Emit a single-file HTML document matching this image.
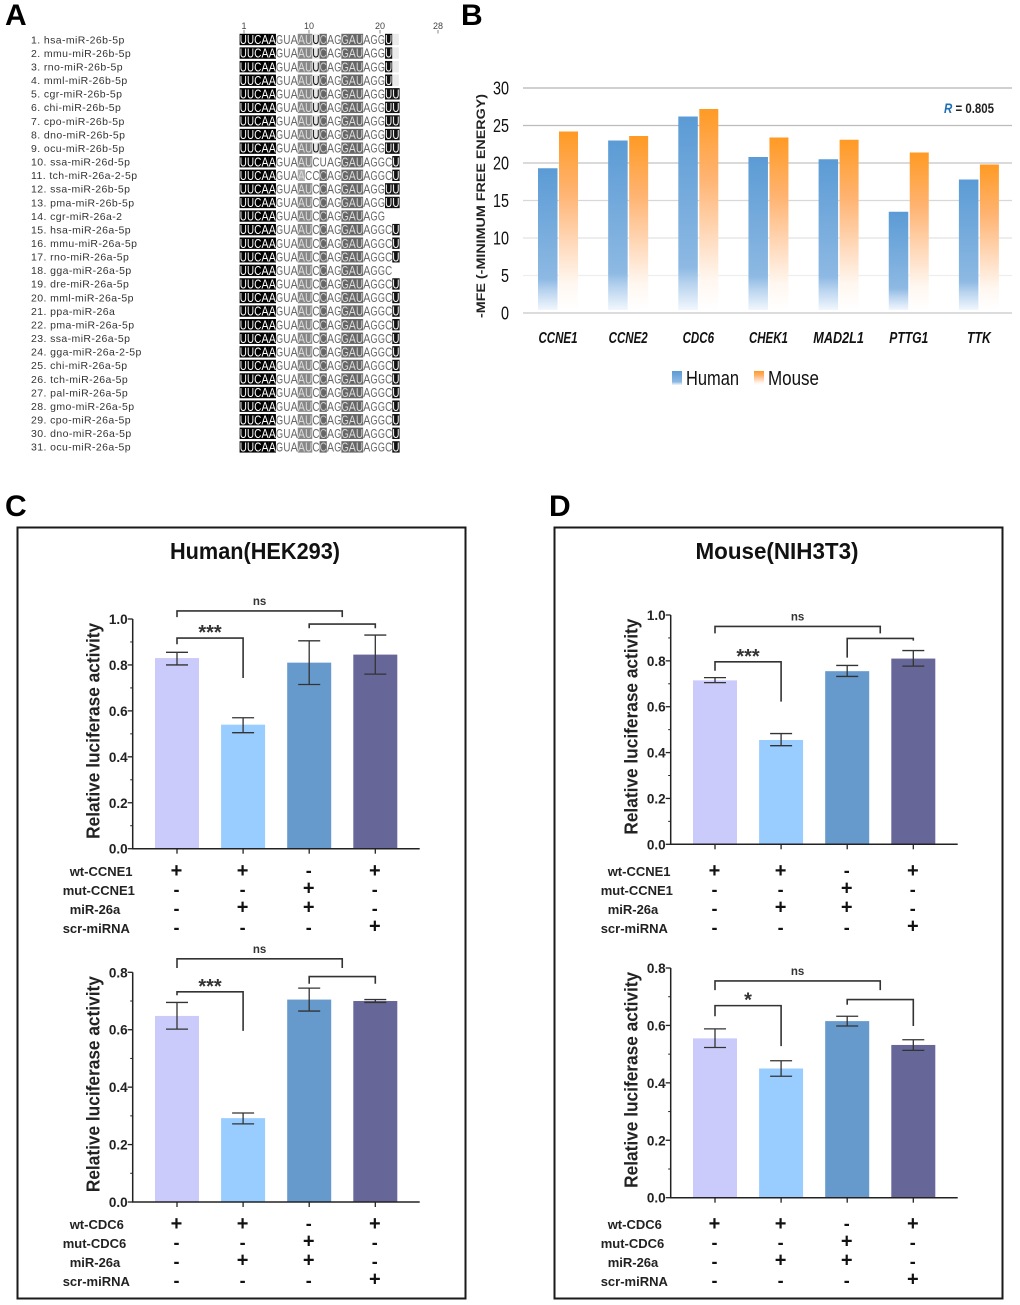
<!DOCTYPE html>
<html lang="en">
<head>
<meta charset="utf-8">
<title>miR-26 conservation and luciferase reporter figure</title>
<style>
html,body{margin:0;padding:0;background:#fff;}
#figure{display:block;width:1020px;height:1305px;font-family:"Liberation Sans",sans-serif;}
</style>
</head>
<body>
<svg id="figure" xmlns="http://www.w3.org/2000/svg" width="1020" height="1305" viewBox="0 0 1020 1305">
  <defs>
    <linearGradient id="human-grad" x1="0" y1="0" x2="0" y2="1">
      <stop offset="0" stop-color="#5b9bd5"/>
      <stop offset="0.78" stop-color="#8db9e3"/>
      <stop offset="0.86" stop-color="#b6d2ee"/>
      <stop offset="1" stop-color="#f1f7fd"/>
    </linearGradient>
    <linearGradient id="mouse-grad" x1="0" y1="0" x2="0" y2="1">
      <stop offset="0" stop-color="#ff9a24"/>
      <stop offset="0.35" stop-color="#ffb473"/>
      <stop offset="0.65" stop-color="#ffdcc0"/>
      <stop offset="0.85" stop-color="#fff7f0"/>
      <stop offset="1" stop-color="#ffffff"/>
    </linearGradient>
  </defs>
  <text x="5" y="25" font-size="30" font-weight="bold" fill="#000">A</text>
  <text x="461" y="25" font-size="30" font-weight="bold" fill="#000">B</text>
  <text x="5" y="516" font-size="30" font-weight="bold" fill="#000">C</text>
  <text x="549" y="516" font-size="30" font-weight="bold" fill="#000">D</text>
  <g id="panel-a"></g>
  <g id="panel-b"></g>
  <rect x="17.5" y="527.5" width="448" height="771" fill="none" stroke="#1a1a1a" stroke-width="2"/>
  <rect x="554.5" y="527.5" width="448" height="771" fill="none" stroke="#1a1a1a" stroke-width="2"/>
  <text x="255" y="559" text-anchor="middle" font-size="23" font-weight="bold" fill="#111" textLength="170" lengthAdjust="spacingAndGlyphs">Human(HEK293)</text>
  <text x="777" y="559" text-anchor="middle" font-size="23" font-weight="bold" fill="#111" textLength="163" lengthAdjust="spacingAndGlyphs">Mouse(NIH3T3)</text>
  <g id="panel-c-top"></g>
  <g id="panel-c-bottom"></g>
  <g id="panel-d-top"></g>
  <g id="panel-d-bottom"></g>
</svg>
<script>
/* ---------- Panel A data ---------- */
const miRnaNames = ["hsa-miR-26b-5p","mmu-miR-26b-5p","rno-miR-26b-5p","mml-miR-26b-5p","cgr-miR-26b-5p","chi-miR-26b-5p","cpo-miR-26b-5p","dno-miR-26b-5p","ocu-miR-26b-5p","ssa-miR-26d-5p","tch-miR-26a-2-5p","ssa-miR-26b-5p","pma-miR-26b-5p","cgr-miR-26a-2","hsa-miR-26a-5p","mmu-miR-26a-5p","rno-miR-26a-5p","gga-miR-26a-5p","dre-miR-26a-5p","mml-miR-26a-5p","ppa-miR-26a","pma-miR-26a-5p","ssa-miR-26a-5p","gga-miR-26a-2-5p","chi-miR-26a-5p","tch-miR-26a-5p","pal-miR-26a-5p","gmo-miR-26a-5p","cpo-miR-26a-5p","dno-miR-26a-5p","ocu-miR-26a-5p"];
const seq26b21 = "UUCAAGUAAUUCAGGAUAGGU";
const seq26b22 = "UUCAAGUAAUUCAGGAUAGGUU";
const seq26a22 = "UUCAAGUAAUCCAGGAUAGGCU";
const miRnaSequences = [seq26b21,seq26b21,seq26b21,seq26b21,seq26b22,seq26b22,seq26b22,seq26b22,seq26b22,"UUCAAGUAAUCUAGGAUAGGCU","UUCAAGUAACCCAGGAUAGGCU","UUCAAGUAAUCCAGGAUAGGUU","UUCAAGUAAUCCAGGAUAGGUU","UUCAAGUAAUCCAGGAUAGG",seq26a22,seq26a22,seq26a22,"UUCAAGUAAUCCAGGAUAGGC",seq26a22,seq26a22,seq26a22,seq26a22,seq26a22,seq26a22,seq26a22,seq26a22,seq26a22,seq26a22,seq26a22,seq26a22,seq26a22];
const rulerLabels = [1,10,20,28];

/* ---------- Panel B data ---------- */
const mfeGenes = ["CCNE1","CCNE2","CDC6","CHEK1","MAD2L1","PTTG1","TTK"];
const mfeHuman = [19.3,23.0,26.2,20.8,20.5,13.5,17.8];
const mfeMouse = [24.2,23.6,27.2,23.4,23.1,21.4,19.8];
const mfeTicks = [0,5,10,15,20,25,30];

/* ---------- Panels C / D data ---------- */
const groupColors = ["#cbcbfb","#99ccff","#6699cc","#666699"];

const cTopValues = [0.83,0.54,0.81,0.845];
const cTopErrHigh = [0.855,0.57,0.905,0.93];
const cTopErrLow = [0.80,0.505,0.715,0.76];
const cTopTicks = [0,0.2,0.4,0.6,0.8,1.0];

const cBottomValues = [0.648,0.292,0.705,0.70];
const cBottomErrHigh = [0.695,0.31,0.745,0.705];
const cBottomErrLow = [0.602,0.272,0.665,0.695];
const cBottomTicks = [0,0.2,0.4,0.6,0.8];

const dTopValues = [0.715,0.455,0.755,0.81];
const dTopErrHigh = [0.727,0.483,0.78,0.845];
const dTopErrLow = [0.705,0.43,0.732,0.777];
const dTopTicks = [0,0.2,0.4,0.6,0.8,1.0];

const dBottomValues = [0.555,0.45,0.615,0.532];
const dBottomErrHigh = [0.588,0.477,0.632,0.55];
const dBottomErrLow = [0.523,0.423,0.598,0.513];
const dBottomTicks = [0,0.2,0.4,0.6,0.8];

/* Brackets are read in data units: group indexes and activity levels */
const cTopBrackets = [
  {from:0,to:2.5,level:1.035,left:1.008,right:1.008,label:"ns"},
  {from:2,to:3,level:0.978,left:0.96,right:0.96,label:""},
  {from:0,to:1,level:0.917,left:0.89,right:0.743,label:"***"}
];
const cBottomBrackets = [
  {from:0,to:2.5,level:0.847,left:0.815,right:0.815,label:"ns"},
  {from:2,to:3,level:0.785,left:0.76,right:0.76,label:""},
  {from:0,to:1,level:0.732,left:0.72,right:0.596,label:"***"}
];
const dTopBrackets = [
  {from:0,to:2.5,level:0.95,left:0.92,right:0.92,label:"ns"},
  {from:2,to:3,level:0.898,left:0.814,right:0.888,label:""},
  {from:0,to:1,level:0.796,left:0.757,right:0.622,label:"***"}
];
const dBottomBrackets = [
  {from:0,to:2.5,level:0.755,left:0.723,right:0.723,label:"ns"},
  {from:2,to:3,level:0.69,left:0.672,right:0.598,label:""},
  {from:0,to:1,level:0.669,left:0.632,right:0.528,label:"*"}
];

const ccne1RowLabels = ["wt-CCNE1","mut-CCNE1","miR-26a","scr-miRNA"];
const cdc6RowLabels = ["wt-CDC6","mut-CDC6","miR-26a","scr-miRNA"];
const conditionSigns = [["+","+","-","+"],["-","-","+","-"],["-","+","+","-"],["-","-","-","+"]];

/* ---------- helpers ---------- */
const NS = "http://www.w3.org/2000/svg";
function mk(parent, tag, attrs, txt){
  const el = document.createElementNS(NS, tag);
  for (const k in attrs) el.setAttribute(k, attrs[k]);
  if (txt !== undefined) el.textContent = txt;
  parent.appendChild(el);
  return el;
}
function slug(s){ return String(s).toLowerCase().replace(/[^a-z0-9]+/g,"-").replace(/^-|-$/g,""); }

/* ---------- Panel A ---------- */
(function(){
  const g = document.getElementById("panel-a");
  const x0 = 239.6, cw = 7.27, y0 = 39.5, dy = 13.58, ch = 11.4;
  rulerLabels.forEach(function(n){
    const cx = n === 28 ? 438 : n === 20 ? 380 : n === 10 ? 309 : 244;
    const t = mk(g,"text",{x:cx,y:29,"text-anchor":"middle","font-size":9,fill:"#444"},n);
    
    
    const tk = mk(g,"line",{x1:cx,x2:cx,y1:30,y2:33.5,stroke:"#555","stroke-width":0.7});
    
    
  });
  miRnaNames.forEach(function(name,i){
    const y = y0 + dy*i;
    const lab = mk(g,"text",{x:31,y:y+3.8,"font-size":10.5,fill:"#333",style:"letter-spacing:.4px"},(i+1)+". "+name);
    
    
    const seq = miRnaSequences[i];
    const is26b = i < 9;
    for (let p=0;p<seq.length;p++){
      const pos = p+1, c = seq[p];
      let fill = "#fff", col = "#666";
      if (pos<=5){ fill="#000"; col="#fff"; }
      else if (pos===9 || pos===10){
        fill = (i===10 && pos===10) ? "#fff" : "#888"; col = (i===10 && pos===10) ? "#666" : "#ddd";
        if (i===10 && pos===9){ fill="#aaa"; }
      }
      else if (pos===11){ if(is26b){ fill="#e8e8e8"; col="#000"; } }
      else if (pos===12){ if(i!==9){ fill="#666"; col="#ccc"; } }
      else if (pos>=15 && pos<=17){ fill="#666"; col="#ddd"; }
      else if (pos===21 && c==="U"){ fill="#111"; col="#fff"; }
      else if (pos===22){ fill="#111"; col="#fff"; }
      const cell = mk(g,"rect",{x:x0+cw*p,y:y-ch/2,width:cw+0.1,height:ch,fill:fill});
      
      
      const tx = mk(g,"text",{x:x0+cw*(p+0.5),y:y+4.6,"text-anchor":"middle","font-size":13,fill:col,textLength:cw-0.2,lengthAdjust:"spacingAndGlyphs"},c);
      
      
    }
    if (i<4){
      const end = mk(g,"rect",{x:x0+cw*21,y:y-ch/2,width:cw*0.9,height:ch,fill:"#ebebeb"});
      
      
    }
  });
})();

/* ---------- Panel B ---------- */
(function(){
  const g = document.getElementById("panel-b");
  const y = function(v){ return 313 - v*7.5; };
  const xC = function(i){ return 558 + 70.15*i; };
  const gridCols = ["#c8c8c8","#eeeeee","#e2e2e2","#d8d8d8","#c4c4c4","#bcbcbc","#b4b4b4"];
  mfeTicks.forEach(function(t,i){
    const ln = mk(g,"line",{x1:523,x2:1012,y1:y(t),y2:y(t),stroke:gridCols[i],"stroke-width":1.2});
    
    
    const lb = mk(g,"text",{x:509,y:y(t)+6.5,"text-anchor":"end","font-size":18,fill:"#111",textLength:String(t).length*8,lengthAdjust:"spacingAndGlyphs"},t);
    
    
  });
  mfeGenes.forEach(function(gene,i){
    const hb = mk(g,"rect",{x:xC(i)-20,y:y(mfeHuman[i]),width:19.5,height:y(0.4)-y(mfeHuman[i]),fill:"url(#human-grad)"});
    
    
    const mb = mk(g,"rect",{x:xC(i)+1,y:y(mfeMouse[i]),width:19,height:y(0.4)-y(mfeMouse[i]),fill:"url(#mouse-grad)"});
    
    
    const widthFor = gene.length*7.6 + 1 + (gene[0]==="M"?4:0);
    const lb = mk(g,"text",{x:xC(i),y:343,"text-anchor":"middle","font-size":16,"font-weight":"bold","font-style":"italic",fill:"#111",textLength:widthFor,lengthAdjust:"spacingAndGlyphs"},gene);
    
    
  });
  const title = mk(g,"text",{transform:"translate(485,206) rotate(-90)","text-anchor":"middle","font-size":11.5,"font-weight":"bold",fill:"#222",textLength:224,lengthAdjust:"spacingAndGlyphs"},"-MFE (-MINIMUM FREE ENERGY)");
  
  
  const r = mk(g,"text",{x:944,y:113,"font-size":14,"font-weight":"bold",fill:"#222",textLength:50,lengthAdjust:"spacingAndGlyphs"});
  
  
  const rr = mk(r,"tspan",{fill:"#1f6fb5","font-style":"italic"},"R");
  
  
  const rv = mk(r,"tspan",{},"\u00a0= 0.805");
  
  
  const hs = mk(g,"rect",{x:672,y:371,width:10,height:14,fill:"url(#human-grad)"});
  
  
  const ht = mk(g,"text",{x:686,y:385,"font-size":20,fill:"#111",textLength:53,lengthAdjust:"spacingAndGlyphs"},"Human");
  
  
  const ms = mk(g,"rect",{x:754,y:371,width:10,height:14,fill:"url(#mouse-grad)"});
  
  
  const mt = mk(g,"text",{x:768,y:385,"font-size":20,fill:"#111",textLength:51,lengthAdjust:"spacingAndGlyphs"},"Mouse");
  
  
})();

/* ---------- Panels C / D ---------- */
function drawBars(opts){
  const g = document.getElementById(opts.id);
  const maxV = opts.ticks[opts.ticks.length-1];
  const y = function(v){ return opts.y0 - (v/maxV)*opts.h; };
  const xC = function(i){ return opts.axisX + 44.3 + 66.1*i; };
  const ink = "#222";

  opts.values.forEach(function(v,i){
    const b = mk(g,"rect",{x:xC(i)-22,y:y(v),width:44,height:opts.y0-y(v),fill:groupColors[i]});
    
    
    const d = "M"+(xC(i)-11)+" "+y(opts.hi[i])+"H"+(xC(i)+11)+"M"+xC(i)+" "+y(opts.hi[i])+"V"+y(opts.lo[i])+"M"+(xC(i)-11)+" "+y(opts.lo[i])+"H"+(xC(i)+11);
    const e = mk(g,"path",{d:d,fill:"none",stroke:"#333","stroke-width":1.3});
    
    
  });

  const ax = mk(g,"path",{d:"M"+opts.axisX+" "+y(maxV)+"V"+opts.y0+"H"+(opts.axisX+287),fill:"none",stroke:ink,"stroke-width":1.5});
  
  
  opts.ticks.forEach(function(t,k){
    const tk = mk(g,"line",{x1:opts.axisX-5,x2:opts.axisX,y1:y(t),y2:y(t),stroke:ink,"stroke-width":1.3});
    
    
    const lb = mk(g,"text",{x:opts.axisX-5,y:y(t)+5,"text-anchor":"end","font-size":13.5,"font-weight":"bold",fill:"#222"},t.toFixed(1));
    
    
    if (k < opts.ticks.length-1){
      const mn = mk(g,"line",{x1:opts.axisX-2.5,x2:opts.axisX,y1:y(t+0.1),y2:y(t+0.1),stroke:ink,"stroke-width":1});
      
      
    }
  });
  opts.values.forEach(function(v,i){
    const tk = mk(g,"line",{x1:xC(i),x2:xC(i),y1:opts.y0,y2:opts.y0+5,stroke:ink,"stroke-width":1.3});
    
    
  });
  const yt = mk(g,"text",{transform:"translate("+(opts.axisX-33)+","+(opts.y0-opts.h/2-3)+") rotate(-90)","text-anchor":"middle","font-size":18,"font-weight":"bold",fill:"#222",textLength:216,lengthAdjust:"spacingAndGlyphs"},"Relative luciferase activity");
  
  

  const xAt = function(p){ return xC(0) + 66.1*p; };
  opts.brackets.forEach(function(b){
    const d = "M"+xAt(b.from)+" "+y(b.left)+"V"+y(b.level)+"H"+xAt(b.to)+"V"+y(b.right);
    const p = mk(g,"path",{d:d,fill:"none",stroke:"#333","stroke-width":1.6});
    
    
    if (b.label){
      const isNs = b.label === "ns";
      const tx = mk(g,"text",{x:(xAt(b.from)+xAt(b.to))/2,y:y(b.level)+(isNs?-6:1),"text-anchor":"middle","font-size":isNs?11.5:20,"font-weight":"bold",fill:"#333"},b.label);
      
      
    }
  });

  opts.rows.forEach(function(label,r){
    const rowY = opts.tableY + 19*r;
    const indent = r%2===0 ? 7 : 0;
    const lb = mk(g,"text",{x:opts.axisX-70+indent,y:rowY+5,"font-size":13,"font-weight":"bold",fill:"#222"},label);
    
    
    conditionSigns[r].forEach(function(s,i){
      const sg = mk(g,"text",{x:xC(i)-0.5,y:s==="+"?rowY+6-(r>0?1.5:0):rowY+5.5,"text-anchor":"middle","font-size":s==="+"?20:18,"font-weight":"bold",fill:"#111"},s);
      
      
    });
  });
}

drawBars({id:"panel-c-top",axisX:132.7,y0:848.7,h:229.7,ticks:cTopTicks,values:cTopValues,hi:cTopErrHigh,lo:cTopErrLow,brackets:cTopBrackets,rows:ccne1RowLabels,tableY:871});
drawBars({id:"panel-c-bottom",axisX:132.7,y0:1202,h:229.7,ticks:cBottomTicks,values:cBottomValues,hi:cBottomErrHigh,lo:cBottomErrLow,brackets:cBottomBrackets,rows:cdc6RowLabels,tableY:1224});
drawBars({id:"panel-d-top",axisX:670.7,y0:844.3,h:229.3,ticks:dTopTicks,values:dTopValues,hi:dTopErrHigh,lo:dTopErrLow,brackets:dTopBrackets,rows:ccne1RowLabels,tableY:871});
drawBars({id:"panel-d-bottom",axisX:670.7,y0:1197.7,h:229.7,ticks:dBottomTicks,values:dBottomValues,hi:dBottomErrHigh,lo:dBottomErrLow,brackets:dBottomBrackets,rows:cdc6RowLabels,tableY:1224});
</script>
</body>
</html>
